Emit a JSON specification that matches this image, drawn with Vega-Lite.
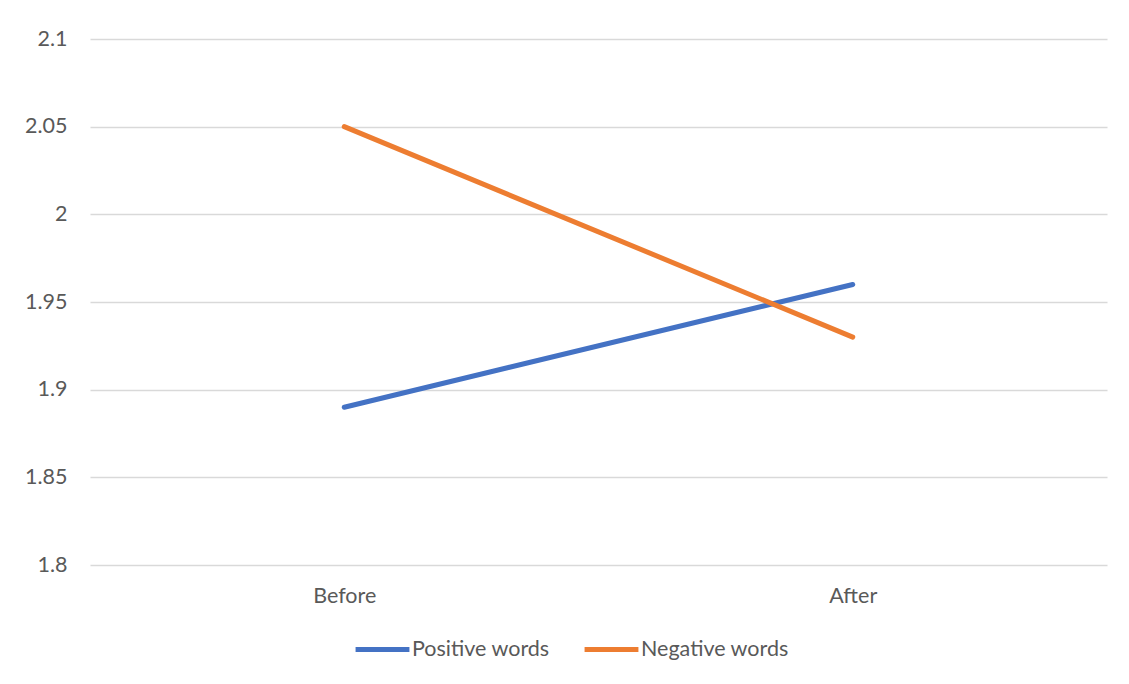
{
  "$schema": "https://vega.github.io/schema/vega-lite/v6.json",
  "width": 1017,
  "height": 526,
  "autosize": {"type": "none"},
  "padding": {"left": 90, "top": 39, "right": 22, "bottom": 119},
  "background": "white",
  "data": {
    "values": [
      {"time": "Before", "series": "Positive words", "value": 1.89},
      {"time": "After", "series": "Positive words", "value": 1.96},
      {"time": "Before", "series": "Negative words", "value": 2.05},
      {"time": "After", "series": "Negative words", "value": 1.93}
    ]
  },
  "mark": {"type": "line", "strokeWidth": 5, "strokeCap": "round"},
  "encoding": {
    "x": {
      "field": "time",
      "type": "nominal",
      "sort": ["Before", "After"],
      "scale": {"type": "point", "padding": 0.5},
      "axis": {
        "title": null,
        "domain": false,
        "ticks": false,
        "labelAngle": 0,
        "labelPadding": 20,
        "labelFontSize": 21.5,
        "labelColor": "#595959",
        "labelFont": "Lato"
      }
    },
    "y": {
      "field": "value",
      "type": "quantitative",
      "scale": {"domain": [1.8, 2.1], "nice": false, "zero": false},
      "axis": {
        "title": null,
        "domain": false,
        "ticks": false,
        "values": [1.8, 1.85, 1.9, 1.95, 2, 2.05, 2.1],
        "format": ".2~f",
        "labelPadding": 23,
        "labelFontSize": 21.5,
        "labelColor": "#595959",
        "labelFont": "Lato",
        "grid": true,
        "gridColor": "#D9D9D9",
        "gridWidth": 1.5
      }
    },
    "color": {
      "field": "series",
      "type": "nominal",
      "sort": ["Positive words", "Negative words"],
      "scale": {"domain": ["Positive words", "Negative words"], "range": ["#4472C4", "#ED7D31"]},
      "legend": {
        "title": null,
        "orient": "none",
        "legendX": 263,
        "legendY": 581,
        "direction": "horizontal",
        "symbolType": "stroke",
        "symbolSize": 2900,
        "symbolStrokeWidth": 5,
        "labelFontSize": 21.5,
        "labelColor": "#595959",
        "labelFont": "Lato",
        "labelOffset": 0,
        "columnPadding": 24
      }
    }
  },
  "config": {"view": {"stroke": null}}
}
